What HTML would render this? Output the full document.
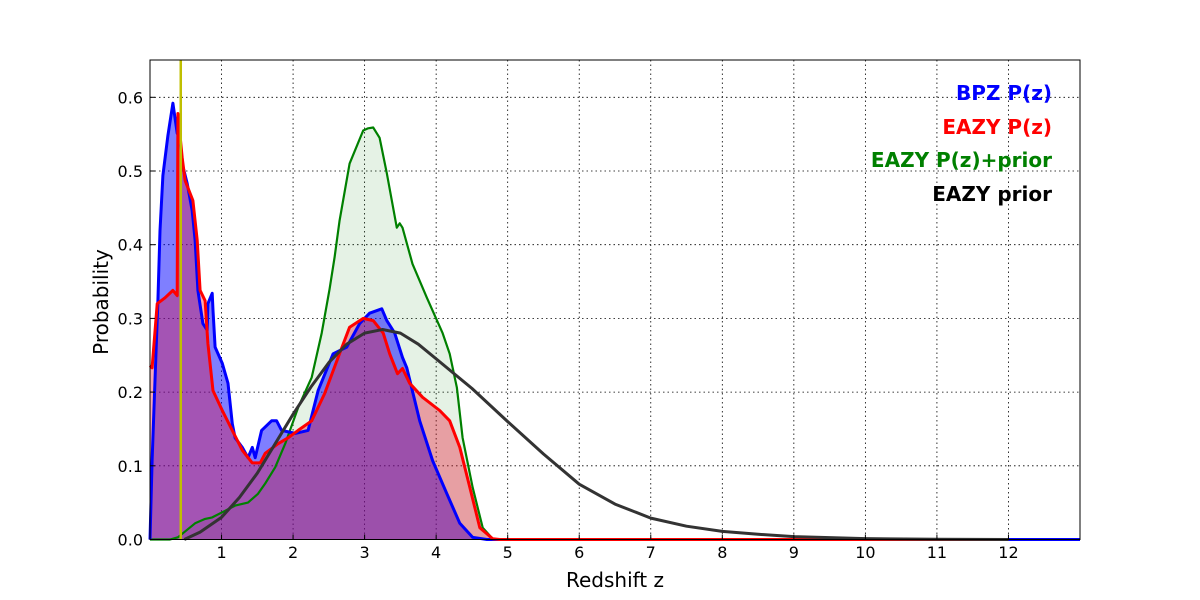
<!DOCTYPE html>
<html><head><meta charset="utf-8"><style>
html,body{margin:0;padding:0;background:#fff;}
svg{display:block;font-family:"DejaVu Sans","Liberation Sans",sans-serif;}
</style></head><body>
<svg id="chart" width="1200" height="600" viewBox="0 0 1200 600" xmlns="http://www.w3.org/2000/svg">
<rect width="1200" height="600" fill="#fff"/>
<g id="grid"></g>
<g id="fills"></g>
<g id="lines"></g>
<rect x="150" y="60" width="930" height="479.5" fill="none" stroke="#000" stroke-width="1"/>
<g id="ticks"></g>
<text x="615" y="587" font-size="20" text-anchor="middle">Redshift z</text>
<text x="108" y="302" font-size="20" text-anchor="middle" transform="rotate(-90 108 302)">Probability</text>
<g font-weight="bold" font-size="20" text-anchor="end">
<text x="1052" y="100" fill="#0000ff">BPZ P(z)</text>
<text x="1052" y="134" fill="#ff0000">EAZY P(z)</text>
<text x="1052" y="167" fill="#008000">EAZY P(z)+prior</text>
<text x="1052" y="201" fill="#000">EAZY prior</text>
</g>
</svg>
<script>
const xTicks=[1,2,3,4,5,6,7,8,9,10,11,12];
const yTicks=[0,0.1,0.2,0.3,0.4,0.5,0.6];
const yTickLabels=["0.0","0.1","0.2","0.3","0.4","0.5","0.6"];
const markerZ=0.43;
const bpzZ=[0,0.03,0.07,0.11,0.14,0.18,0.25,0.32,0.38,0.39,0.45,0.52,0.59,0.63,0.67,0.74,0.80,0.81,0.87,0.88,0.91,1.01,1.09,1.15,1.19,1.29,1.37,1.43,1.47,1.56,1.70,1.77,1.84,2.03,2.21,2.35,2.56,2.75,2.93,3.07,3.24,3.31,3.42,3.53,3.59,3.77,3.95,4.15,4.33,4.51,4.71,13];
const bpzP=[0,0.107,0.216,0.324,0.419,0.494,0.548,0.592,0.551,0.573,0.510,0.483,0.446,0.406,0.338,0.293,0.284,0.320,0.334,0.311,0.261,0.239,0.212,0.157,0.138,0.125,0.111,0.125,0.111,0.148,0.161,0.161,0.148,0.144,0.148,0.202,0.252,0.261,0.293,0.307,0.313,0.297,0.280,0.247,0.233,0.161,0.107,0.062,0.022,0.003,0,0];
const eazyZ=[0,0.03,0.10,0.21,0.32,0.38,0.39,0.45,0.49,0.60,0.66,0.70,0.77,0.81,0.88,1.01,1.15,1.29,1.43,1.54,1.61,1.79,1.93,2.07,2.26,2.44,2.63,2.79,2.98,3.12,3.26,3.35,3.46,3.53,3.63,3.81,4.05,4.19,4.33,4.47,4.61,4.79,4.89,11.95];
const eazyP=[0.236,0.233,0.320,0.328,0.338,0.331,0.578,0.518,0.487,0.460,0.406,0.338,0.324,0.266,0.202,0.175,0.148,0.121,0.104,0.104,0.117,0.130,0.138,0.148,0.161,0.198,0.247,0.288,0.300,0.297,0.280,0.252,0.225,0.232,0.212,0.193,0.175,0.161,0.125,0.071,0.016,0.001,0,0];
const combZ=[0,0.28,0.39,0.63,0.77,0.87,1.05,1.19,1.37,1.51,1.61,1.75,1.89,2.07,2.26,2.40,2.51,2.58,2.65,2.79,2.98,3.05,3.12,3.21,3.31,3.45,3.49,3.53,3.67,3.87,4.09,4.19,4.29,4.37,4.51,4.65,4.79,4.89,11.95];
const combP=[0,0,0.003,0.022,0.028,0.030,0.039,0.046,0.050,0.062,0.076,0.098,0.130,0.179,0.220,0.280,0.340,0.383,0.433,0.510,0.555,0.558,0.559,0.545,0.497,0.423,0.429,0.423,0.374,0.328,0.280,0.252,0.206,0.138,0.071,0.016,0.001,0,0];
const priorZ=[0.48,0.7,1,1.25,1.5,1.75,2,2.25,2.5,2.75,3,3.25,3.5,3.75,4,4.5,5,5.5,6,6.5,7,7.5,8,8.5,9,10,11,12];
const priorP=[0,0.01,0.03,0.057,0.09,0.13,0.17,0.207,0.24,0.265,0.28,0.285,0.28,0.265,0.245,0.205,0.16,0.116,0.075,0.048,0.029,0.018,0.011,0.007,0.004,0.0012,0.0003,0];

const X0=150,X1=1080,ZMAX=13,Y0=539.5,PPU=737;
const sx=z=>X0+z*(X1-X0)/ZMAX;
const sy=p=>Y0-p*PPU;
const NS="http://www.w3.org/2000/svg";
function mk(tag,parent,attrs){const e=document.createElementNS(NS,tag);for(const k in attrs)e.setAttribute(k,attrs[k]);parent.appendChild(e);return e;}
const grid=document.getElementById('grid'),ticks=document.getElementById('ticks');
xTicks.forEach(t=>{
  const l=mk('line',grid,{x1:sx(t),x2:sx(t),y1:60,y2:Y0,stroke:'#000','stroke-width':0.8,'stroke-dasharray':'1.5,3'});
  
  
  const tk=mk('line',ticks,{x1:sx(t),x2:sx(t),y1:Y0,y2:Y0-5,stroke:'#000'});
  
  
  const tx=mk('text',ticks,{x:sx(t),y:558,'font-size':16,'text-anchor':'middle'});
  tx.textContent=String(t);
  
  
});
yTicks.forEach((t,i)=>{
  if(t>0){const l=mk('line',grid,{x1:X0,x2:X1,y1:sy(t),y2:sy(t),stroke:'#000','stroke-width':0.8,'stroke-dasharray':'1.5,3'});
  
  }
  const tk=mk('line',ticks,{x1:X0,x2:X0+5,y1:sy(t),y2:sy(t),stroke:'#000'});
  
  
  const tx=mk('text',ticks,{x:143,y:sy(t)+6,'font-size':16,'text-anchor':'end'});
  tx.textContent=yTickLabels[i];
  
  
});
const pts=(Z,P)=>Z.map((z,i)=>sx(z).toFixed(1)+','+sy(P[i]).toFixed(1)).join(' ');
const area=(Z,P)=>sx(Z[0]).toFixed(1)+','+sy(0)+' '+pts(Z,P)+' '+sx(Z[Z.length-1]).toFixed(1)+','+sy(0);
const fills=document.getElementById('fills'),lines=document.getElementById('lines');
const f1=mk('polygon',fills,{points:area(combZ,combP),fill:'rgb(0,128,0)','fill-opacity':0.1});


const f2=mk('polygon',fills,{points:area(bpzZ,bpzP),fill:'rgb(0,0,255)','fill-opacity':0.5});


const f3=mk('polygon',fills,{points:area(eazyZ,eazyP),fill:'rgb(234,6,40)','fill-opacity':0.35});


const l1=mk('polyline',lines,{points:pts(combZ,combP),fill:'none',stroke:'#008000','stroke-width':2.2,'stroke-linejoin':'round'});


const l2=mk('polyline',lines,{points:pts(bpzZ,bpzP),fill:'none',stroke:'#0000ff','stroke-width':3,'stroke-linejoin':'round'});


const l3=mk('polyline',lines,{points:pts(eazyZ,eazyP),fill:'none',stroke:'#ff0000','stroke-width':3,'stroke-linejoin':'round'});


const l4=mk('polyline',lines,{points:pts(priorZ,priorP),fill:'none',stroke:'#333','stroke-width':3,'stroke-linejoin':'round'});


const m=mk('line',lines,{x1:sx(markerZ),x2:sx(markerZ),y1:60,y2:Y0,stroke:'#bfbf00','stroke-width':2.5});


</script>
</body></html>
